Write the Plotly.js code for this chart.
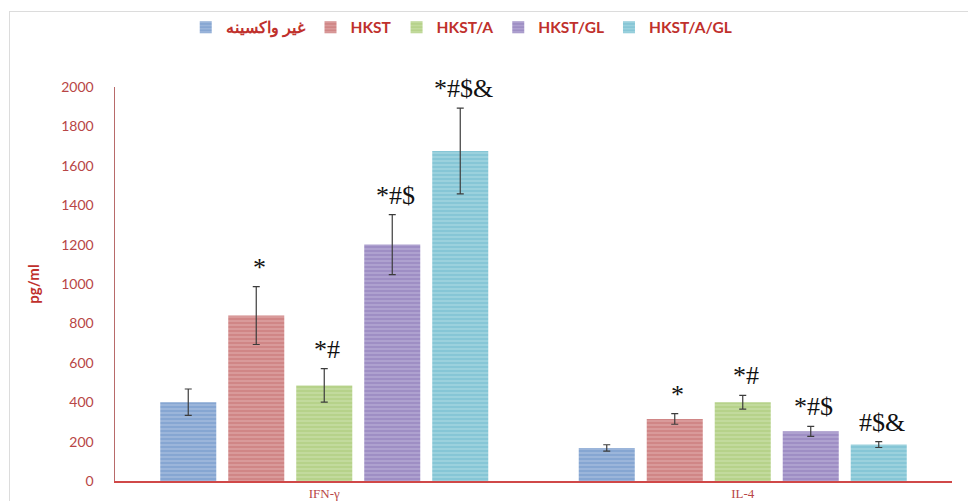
<!DOCTYPE html>
<html>
<head>
<meta charset="utf-8">
<script src="https://cdn.plot.ly/plotly-3.0.1.min.js"></script>
<style>
  html, body { margin: 0; padding: 0; background: #ffffff; }
  #wrap { position: relative; width: 968px; height: 501px; overflow: hidden; }
  #chart { width: 968px; height: 501px; }
  #frame {
    position: absolute; left: 9px; top: 11px; width: 980px; height: 520px;
    border-top: 1px solid #dcdcdc; border-left: 1px solid #dcdcdc;
    pointer-events: none;
  }
</style>
</head>
<body>
<div id="wrap">
  <div id="chart"></div>
  <div id="frame"></div>
</div>
<script>
// Cytokine levels (pg/ml) per group
const categories = ['IFN-γ', 'IL-4'];
const groups = ['غیر واکسینه', 'HKST', 'HKST/A', 'HKST/GL', 'HKST/A/GL'];

const unvaccinated = [400, 168];
const hkst        = [840, 315];
const hkstA       = [485, 400];
const hkstGL      = [1200, 252];
const hkstAGL     = [1675, 185];

const unvaccinatedErr = [67, 16];
const hkstErr         = [147, 27];
const hkstAErr        = [85, 35];
const hkstGLErr       = [152, 25];
const hkstAGLErr      = [218, 15];

// Significance markers above each bar
const unvaccinatedSig = ['', ''];
const hkstSig         = ['*', '*'];
const hkstASig        = ['*#', '*#'];
const hkstGLSig       = ['*#$', '*#$'];
const hkstAGLSig      = ['*#$&', '#$&'];

const values = [unvaccinated, hkst, hkstA, hkstGL, hkstAGL];
const errors = [unvaccinatedErr, hkstErr, hkstAErr, hkstGLErr, hkstAGLErr];
const sigs   = [unvaccinatedSig, hkstSig, hkstASig, hkstGLSig, hkstAGLSig];

const fills  = ['#86a6d2', '#d08686', '#b6d28a', '#9e8ec4', '#86c6d6'];
const stripe = ['#b4c9e6', '#e6b2b2', '#d2e6b4', '#c2b8dc', '#b4dee8'];

const traces = groups.map((name, i) => ({
  type: 'bar',
  name: name,
  x: categories,
  y: values[i],
  error_y: { type: 'data', array: errors[i], visible: true,
             color: '#3c3c3c', thickness: 1.2, width: 3.5 },
  marker: {
    color: fills[i],
    line: { width: 0 },
    pattern: { shape: '-', fgcolor: stripe[i], bgcolor: fills[i],
               size: 4, solidity: 0.45, fillmode: 'overlay' }
  },
  hoverinfo: 'x+y+name'
}));

// Slot width of one bar within its group, in pixels
const plotWidth = 968 - 115 - 16;
const bargap = 0.1876;
const slot = plotWidth / categories.length * (1 - bargap) / groups.length;

const annotations = [];
groups.forEach((g, i) => {
  categories.forEach((c, j) => {
    if (!sigs[i][j]) return;
    annotations.push({
      x: c, y: values[i][j] + errors[i][j],
      xref: 'x', yref: 'y',
      text: sigs[i][j],
      showarrow: false,
      xanchor: 'center', yanchor: 'bottom',
      xshift: (i - (groups.length - 1) / 2) * slot + 3,
      yshift: 3,
      font: { family: 'Liberation Serif, serif', size: 26, color: '#111111' }
    });
  });
});

const layout = {
  width: 968, height: 501,
  margin: { l: 115, r: 16, t: 87, b: 20 },
  paper_bgcolor: '#ffffff',
  plot_bgcolor: '#ffffff',
  barmode: 'group',
  bargap: bargap,
  bargroupgap: 0.176,
  showlegend: true,
  legend: {
    orientation: 'h',
    x: 0.477, xanchor: 'center', xref: 'container',
    y: 0.945, yanchor: 'middle', yref: 'container',
    font: { family: 'Lato, sans-serif', size: 15.5, color: '#c0302c', weight: 'bold' },
    itemwidth: 30,
    traceorder: 'normal',
    bgcolor: 'rgba(0,0,0,0)'
  },
  xaxis: {
    type: 'category',
    showline: true, linecolor: '#d04848', linewidth: 1.8,
    showgrid: false, zeroline: false,
    ticks: '',
    tickfont: { family: 'Liberation Serif, serif', size: 13, color: '#b84646' },
    ticklabelstandoff: 0
  },
  yaxis: {
    range: [0, 2000],
    tickvals: [0, 200, 400, 600, 800, 1000, 1200, 1400, 1600, 1800, 2000],
    showline: true, linecolor: '#b86a6a', linewidth: 1.5,
    showgrid: false, zeroline: false,
    ticks: '',
    ticklabelstandoff: 17,
    tickfont: { family: 'Lato, sans-serif', size: 14, color: '#b84646' },
    title: { text: 'pg/ml', standoff: 18,
             font: { family: 'Lato, sans-serif', size: 15, color: '#c0302c', weight: 'bold' } }
  },
  annotations: annotations
};

Plotly.newPlot('chart', traces, layout, { displayModeBar: false, staticPlot: true });
</script>
</body>
</html>
